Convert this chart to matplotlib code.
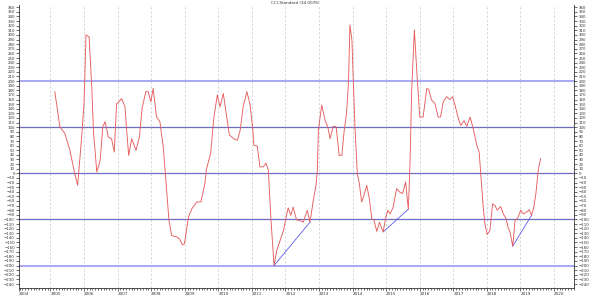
import matplotlib
matplotlib.use("Agg")
import matplotlib.pyplot as plt
from matplotlib.ticker import MultipleLocator

# CCI readings (decimal year, value)
dates = [
    2005.13, 2005.28, 2005.43, 2005.58, 2005.71, 2005.81, 2005.93, 2006.00, 2006.06, 2006.15,
    2006.23, 2006.28, 2006.38, 2006.48, 2006.56, 2006.63, 2006.72, 2006.82, 2006.90, 2006.97,
    2007.04, 2007.12, 2007.22, 2007.27, 2007.33, 2007.42, 2007.55, 2007.65, 2007.73, 2007.84,
    2007.91, 2007.99, 2008.06, 2008.16, 2008.26, 2008.36, 2008.46, 2008.53, 2008.61, 2008.76,
    2008.84, 2008.93, 2008.99, 2009.11, 2009.21, 2009.36, 2009.48, 2009.60, 2009.65, 2009.77,
    2009.87, 2009.97, 2010.05, 2010.15, 2010.25, 2010.33, 2010.50, 2010.57, 2010.65, 2010.74,
    2010.85, 2010.94, 2011.02, 2011.06, 2011.16, 2011.24, 2011.34, 2011.42, 2011.49, 2011.57,
    2011.66, 2011.74, 2011.84, 2011.94, 2012.02, 2012.08, 2012.16, 2012.23, 2012.33, 2012.43,
    2012.53, 2012.65, 2012.73, 2012.83, 2012.91, 2012.95, 2012.98, 2013.08, 2013.18, 2013.26,
    2013.33, 2013.42, 2013.51, 2013.60, 2013.68, 2013.75, 2013.82, 2013.88, 2013.92, 2013.98,
    2014.02, 2014.07, 2014.14, 2014.20, 2014.27, 2014.34, 2014.42, 2014.50, 2014.57, 2014.64,
    2014.72, 2014.80, 2014.87, 2014.91, 2014.99, 2015.05, 2015.12, 2015.21, 2015.31, 2015.41,
    2015.49, 2015.58, 2015.66, 2015.71, 2015.76, 2015.84, 2015.91, 2016.00, 2016.10, 2016.21,
    2016.27, 2016.35, 2016.45, 2016.55, 2016.62, 2016.70, 2016.80, 2016.90, 2016.98, 2017.05,
    2017.15, 2017.22, 2017.32, 2017.40, 2017.50, 2017.58, 2017.70, 2017.77, 2017.83, 2017.89,
    2017.94, 2018.01, 2018.09, 2018.17, 2018.24, 2018.31, 2018.41, 2018.49, 2018.57, 2018.64,
    2018.69, 2018.77, 2018.84, 2018.91, 2019.01, 2019.08, 2019.19, 2019.26, 2019.33, 2019.40,
    2019.46, 2019.53, 2019.60,
]
cci = [
    177, 101, 86, 50, 3, -26, 79, 152, 300, 296,
    188, 93, 3, 28, 101, 112, 79, 75, 46, 151,
    155, 162, 144, 93, 39, 75, 50, 79, 141, 177,
    177, 155, 184, 122, 112, 57, -37, -102, -135, -138,
    -142, -155, -153, -95, -77, -62, -62, -22, 10, 43,
    122, 170, 144, 173, 122, 83, 73, 72, 93, 144,
    177, 151, 101, 61, 59, 14, 14, 22, 7, -102,
    -200, -167, -146, -124, -95, -75, -91, -73, -101, -102,
    -106, -80, -106, -59, -26, 7, 93, 148, 115, 101,
    75, 102, 101, 39, 39, 93, 130, 202, 322, 289,
    202, 101, -1, -22, -62, -48, -26, -55, -98, -102,
    -126, -106, -120, -127, -95, -80, -88, -73, -33, -41,
    -44, -19, -78, 21, 180, 311, 224, 122, 122, 184,
    182, 159, 152, 122, 122, 155, 166, 160, 166, 148,
    119, 104, 114, 102, 122, 101, 61, 46, -15, -73,
    -109, -133, -124, -66, -70, -80, -72, -88, -98, -120,
    -127, -158, -102, -98, -80, -88, -84, -79, -91, -73,
    -44, 7, 32,
]

# divergence trend lines
trend_x = [(2011.66, 2012.73), (2014.91, 2015.66), (2018.77, 2019.33)]
trend_y = [(-200, -106), (-127, -78), (-158, -91)]

outer_levels = [200, -200]
inner_levels = [100, 0, -100]
years = list(range(2004, 2021))
title = "CCI-Standard (34.0076)"

x_left, x_right = 2004.063, 2020.604

fig = plt.figure(figsize=(5.9, 2.95), dpi=100)
ax = fig.add_axes([19 / 590, 7.3 / 295, 555.3 / 590, 283.2 / 295])

for yr in years[1:]:
    ax.axvline(yr, color="#cccccc", lw=0.6, ls=(0, (2.5, 2.5)), zorder=0)
for lv in outer_levels:
    ax.axhline(lv, color="#a8a8f4", lw=1.4, zorder=1)
for lv in inner_levels:
    ax.axhline(lv, color="#6c6cc4", lw=0.9, zorder=1)

ax.plot(dates, cci, color="#e65c5c", lw=0.65, zorder=3)
for tx, ty in zip(trend_x, trend_y):
    ax.plot(tx, ty, color="#5a5ae6", lw=0.6, zorder=2)

ax.set_xlim(x_left, x_right)
ax.set_ylim(-248, 366)

# y ticks both sides, every 10
ax.yaxis.set_major_locator(MultipleLocator(10))
ax.tick_params(axis="y", which="major", labelsize=2.8, length=2, width=0.4,
               pad=1, left=True, right=True, labelleft=True, labelright=True,
               labelcolor="#333333")

# x ticks: year labels (left aligned) + monthly minor ticks
tick_pos = [max(y, x_left) for y in years]
ax.set_xticks(tick_pos)
ax.set_xticklabels([str(y) for y in years])
for lab in ax.get_xticklabels():
    lab.set_horizontalalignment("left")
ax.xaxis.set_minor_locator(MultipleLocator(1 / 12))
ax.tick_params(axis="x", which="major", labelsize=3, length=2.5, width=0.4, pad=0.5,
               labelcolor="#333333")
ax.tick_params(axis="x", which="minor", length=1.5, width=0.4)

for side in ["left", "right", "bottom"]:
    ax.spines[side].set_linewidth(0.6)
    ax.spines[side].set_color("#333333")
ax.spines["top"].set_visible(False)

fig.text(0.5, 1 - 3.5 / 295, title, ha="center", va="center", fontsize=3, color="#333333")

fig.savefig("out.png", dpi=100)
